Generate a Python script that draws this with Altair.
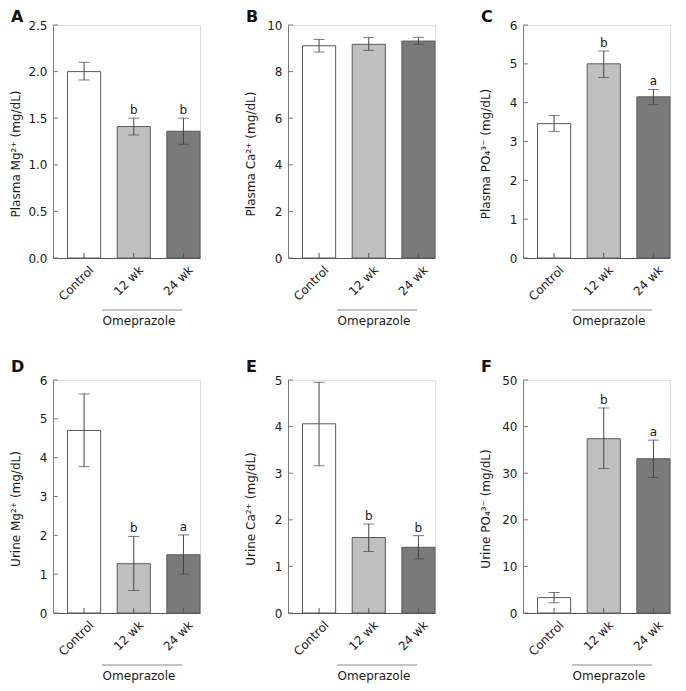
import altair as alt
import pandas as pd

categories = ["Control", "12 wk", "24 wk"]
fills = ["#ffffff", "#c0c0c0", "#7a7a7a"]

letters = ["A", "B", "C", "D", "E", "F"]
y_titles = [
    "Plasma Mg²⁺ (mg/dL)",
    "Plasma Ca²⁺ (mg/dL)",
    "Plasma PO₄³⁻ (mg/dL)",
    "Urine Mg²⁺ (mg/dL)",
    "Urine Ca²⁺ (mg/dL)",
    "Urine PO₄³⁻ (mg/dL)",
]
y_max = [2.5, 10, 6, 6, 5, 50]
y_ticks = [
    [0, 0.5, 1.0, 1.5, 2.0, 2.5],
    [0, 2, 4, 6, 8, 10],
    [0, 1, 2, 3, 4, 5, 6],
    [0, 1, 2, 3, 4, 5, 6],
    [0, 1, 2, 3, 4, 5],
    [0, 10, 20, 30, 40, 50],
]
y_formats = [".1f", "d", "d", "d", "d", "d"]

# Panel A: Plasma Mg
mean_A = [2.00, 1.41, 1.36]
low_A = [1.91, 1.32, 1.22]
high_A = [2.10, 1.50, 1.50]
sig_A = ["", "b", "b"]
# Panel B: Plasma Ca
mean_B = [9.11, 9.17, 9.31]
low_B = [8.84, 8.91, 9.17]
high_B = [9.38, 9.46, 9.47]
sig_B = ["", "", ""]
# Panel C: Plasma PO4
mean_C = [3.46, 5.00, 4.15]
low_C = [3.26, 4.65, 3.95]
high_C = [3.67, 5.33, 4.34]
sig_C = ["", "b", "a"]
# Panel D: Urine Mg
mean_D = [4.70, 1.27, 1.50]
low_D = [3.77, 0.58, 1.00]
high_D = [5.64, 1.97, 2.01]
sig_D = ["", "b", "a"]
# Panel E: Urine Ca
mean_E = [4.06, 1.62, 1.41]
low_E = [3.16, 1.32, 1.16]
high_E = [4.95, 1.91, 1.66]
sig_E = ["", "b", "b"]
# Panel F: Urine PO4
mean_F = [3.3, 37.4, 33.1]
low_F = [2.2, 31.0, 29.1]
high_F = [4.4, 44.0, 37.1]
sig_F = ["", "b", "a"]

group_label = "Omeprazole"

panels_data = [
    (mean_A, low_A, high_A, sig_A),
    (mean_B, low_B, high_B, sig_B),
    (mean_C, low_C, high_C, sig_C),
    (mean_D, low_D, high_D, sig_D),
    (mean_E, low_E, high_E, sig_E),
    (mean_F, low_F, high_F, sig_F),
]

W, H = 147, 233
FONT = "DejaVu Sans"
TXT = "#1a1a1a"
AXC = "#7a7a7a"
XAXC = "#555555"
BARSTROKE = "#5a5a5a"
ERRC = "#444444"


def make_panel(i):
    mean, lo, hi, sig = panels_data[i]
    row = i // 3
    df = pd.DataFrame({"cat": categories, "mean": mean, "lo": lo, "hi": hi,
                       "sig": sig, "fill": fills})
    xscale = alt.Scale(domain=categories, paddingInner=0.333,
                       paddingOuter=0.146, align=1)
    xaxis = alt.Axis(title=None, labelAngle=315, ticks=False, labelAlign="right",
                     labelBaseline="top", labelPadding=6, labelOffset=4,
                     domainColor=XAXC, labelColor=TXT, labelFont=FONT,
                     labelFontSize=12)
    yscale = alt.Scale(domain=[0, y_max[i]], nice=False, zero=True)
    yaxis = alt.Axis(values=y_ticks[i], format=y_formats[i], ticks=False,
                     title=y_titles[i], titleX=-38, titleY=H / 2 + 12,
                     titleAngle=270, titleAlign="center", titleBaseline="middle",
                     titleFont=FONT, titleFontSize=12, titleFontWeight="normal",
                     titleColor=TXT, labelPadding=6, labelColor=TXT,
                     labelFont=FONT, labelFontSize=12, domainColor=AXC,
                     grid=False)

    def X():
        return alt.X("cat:N", scale=xscale, sort=categories, axis=xaxis)

    def Y(field):
        return alt.Y(field, scale=yscale, axis=yaxis)

    base = alt.Chart(df)
    bars = base.mark_bar(stroke=BARSTROKE, strokeWidth=1).encode(
        x=X(), y=Y("mean:Q"), fill=alt.Fill("fill:N", scale=None))
    err = base.mark_rule(color=ERRC, strokeWidth=1).encode(
        x=X(), y=Y("lo:Q"), y2="hi:Q")
    cap_lo = base.mark_tick(color=ERRC, size=11, thickness=1).encode(
        x=X(), y=Y("lo:Q"))
    cap_hi = base.mark_tick(color=ERRC, size=11, thickness=1).encode(
        x=X(), y=Y("hi:Q"))
    sigtxt = base.mark_text(dy=-4, baseline="alphabetic", font=FONT,
                            fontSize=12, color=TXT).encode(
        x=X(), y=Y("hi:Q"), text="sig:N")
    xticks = base.mark_rule(color=XAXC, strokeWidth=1).encode(
        x=X(), y=alt.value(H), y2=alt.value(H - 5))
    tdf = pd.DataFrame({"t": y_ticks[i]})
    yticks = alt.Chart(tdf).mark_rule(color=AXC, strokeWidth=1).encode(
        y=Y("t:Q"), x=alt.value(0), x2=alt.value(5))
    one = alt.Chart(pd.DataFrame({"k": [0]}))
    bracket = one.mark_rule(color="#888888", strokeWidth=1).encode(
        x=alt.value(49), x2=alt.value(129), y=alt.value(H + 52))
    omep = one.mark_text(text=group_label, font=FONT, fontSize=12, color=TXT,
                         align="center", baseline="alphabetic").encode(
        x=alt.value(86), y=alt.value(H + 67))
    letter = one.mark_text(text=letters[i], font=FONT, fontSize=16,
                           fontWeight="bold", color="#111111", align="left",
                           baseline="alphabetic").encode(
        x=alt.value(-42), y=alt.value(-3 if row == 0 else -8))
    return alt.layer(bars, err, cap_lo, cap_hi, sigtxt, xticks, yticks,
                     bracket, omep, letter).properties(width=W, height=H)


chart = alt.concat(
    *[make_panel(i) for i in range(6)],
    columns=3,
    spacing=alt.RowColnumber(column=88, row=122),
    bounds="flush",
    padding=0,
).configure_view(stroke=None).configure(background="white")

chart.save("out.html", embed_options={"renderer": "svg", "actions": False})
